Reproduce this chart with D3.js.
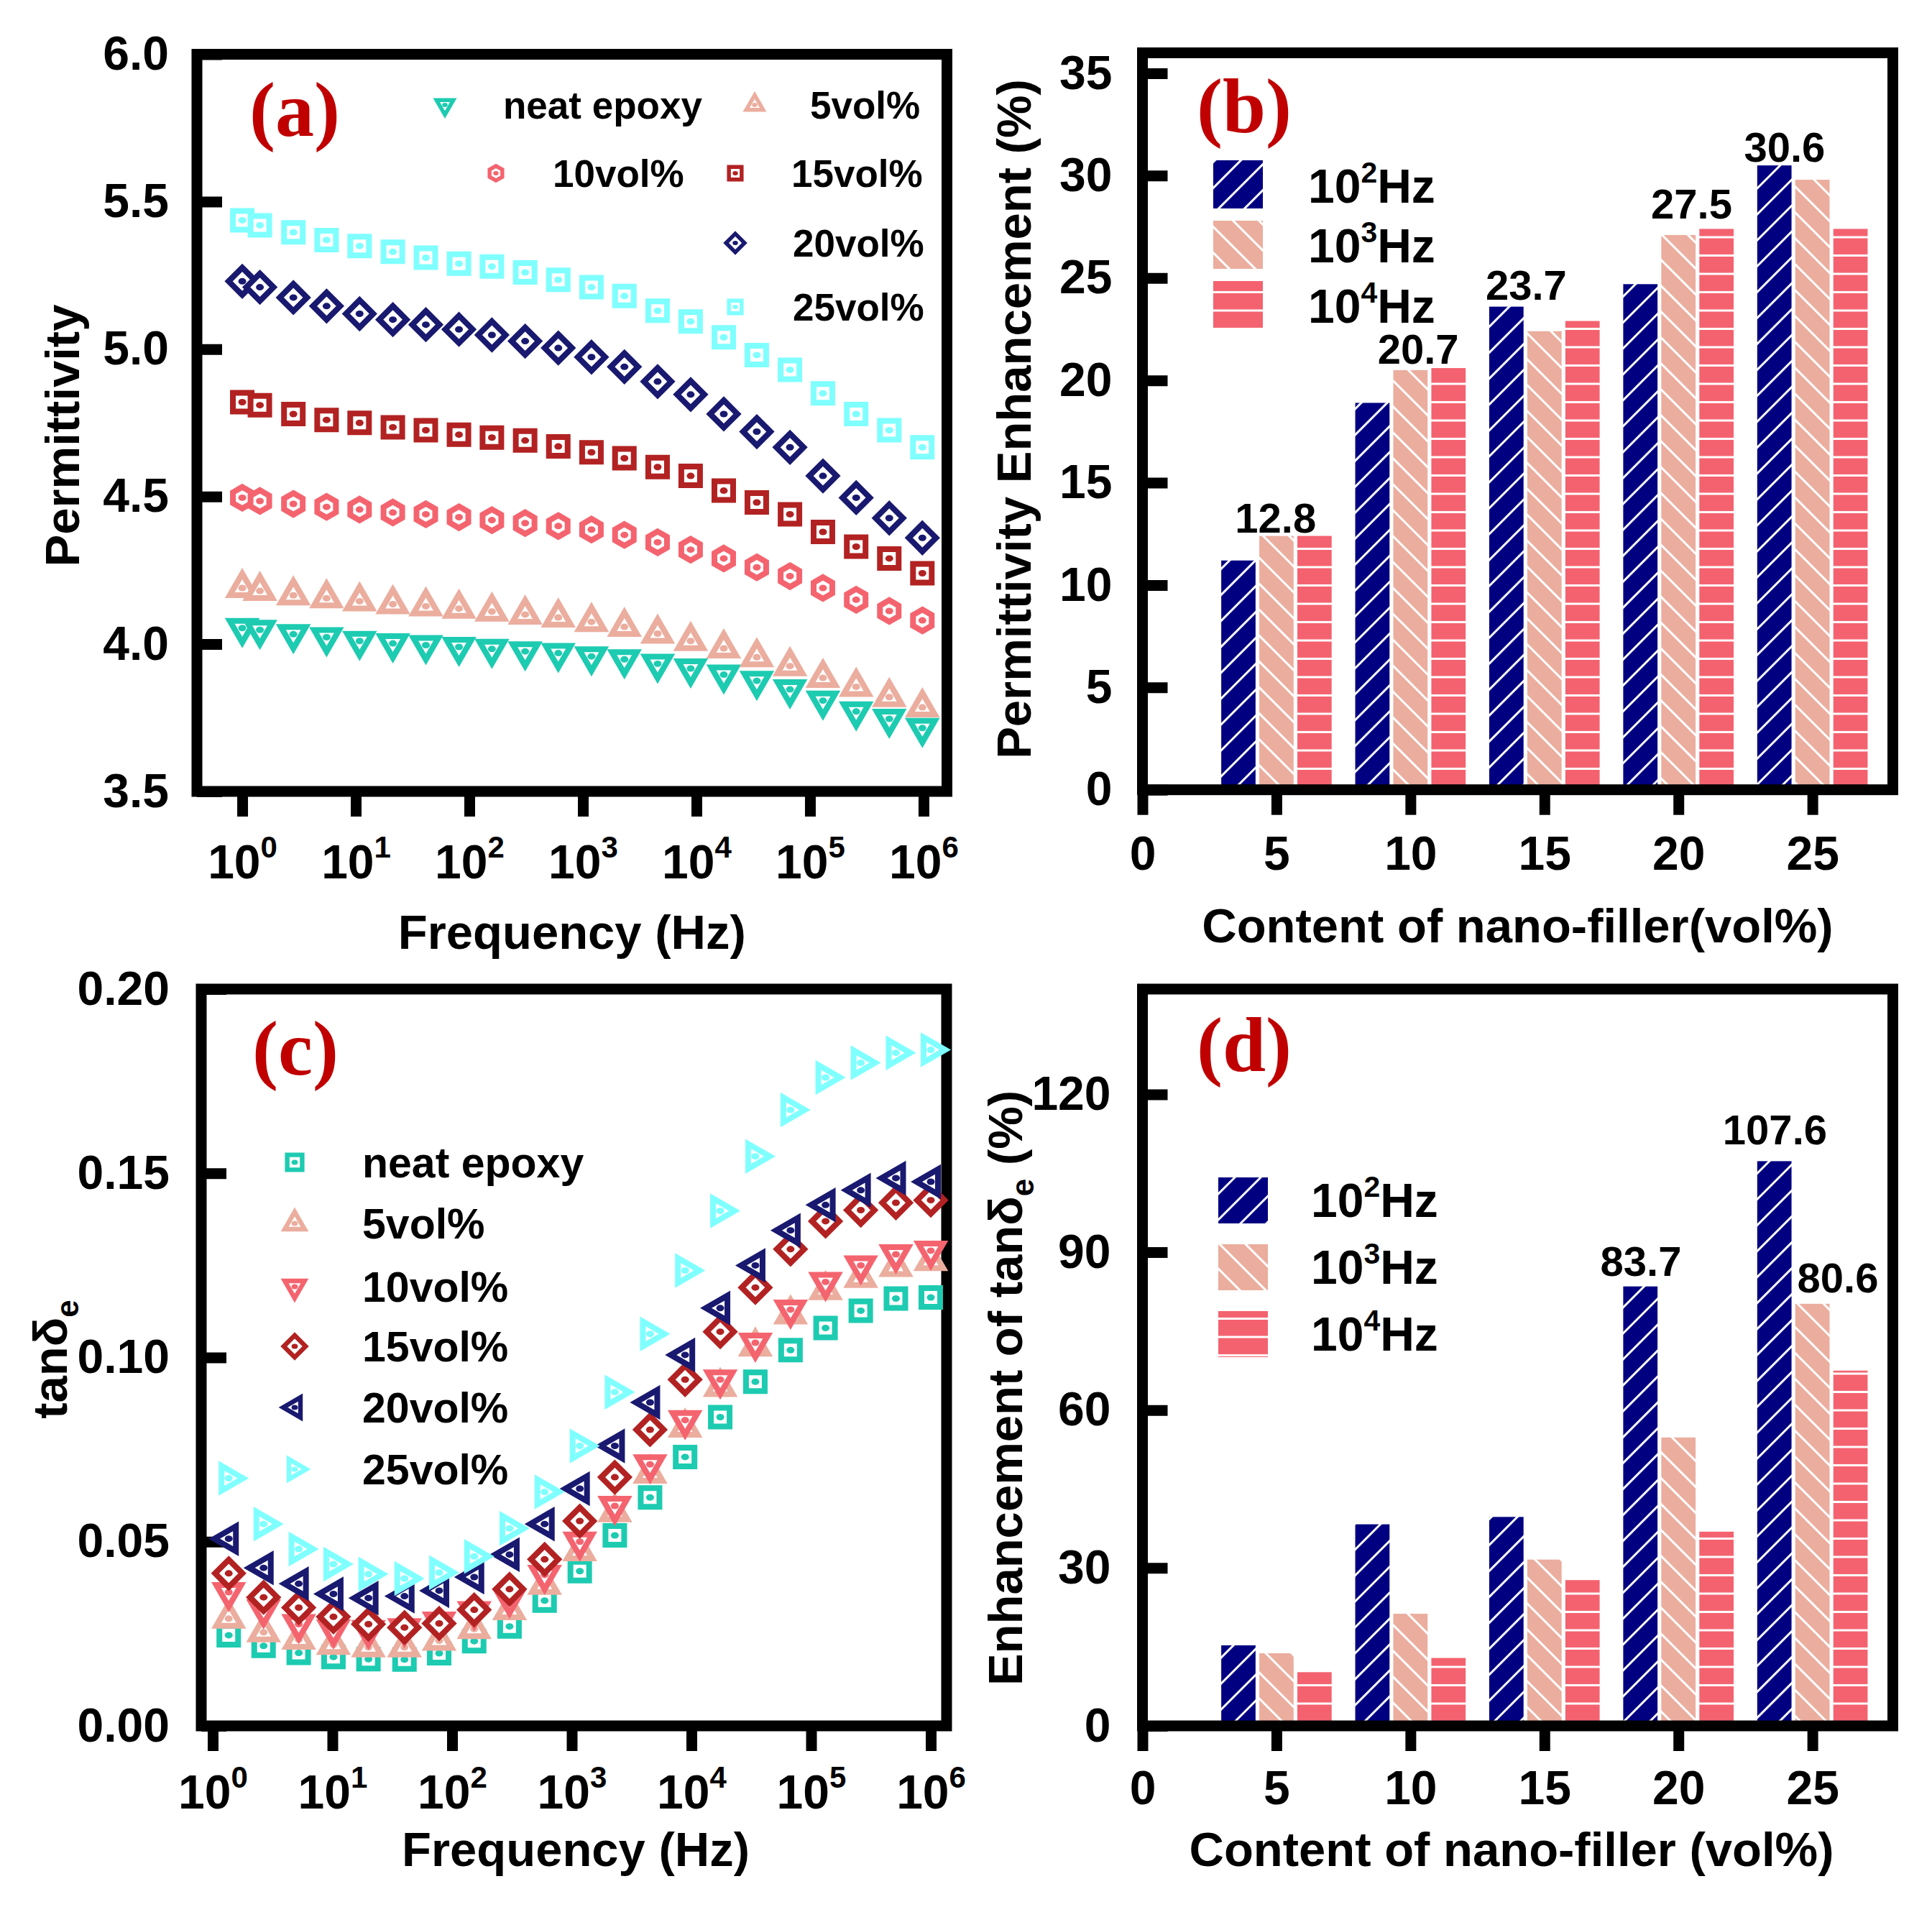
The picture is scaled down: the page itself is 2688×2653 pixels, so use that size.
<!DOCTYPE html>
<html>
<head>
<meta charset="utf-8">
<script src="https://cdn.jsdelivr.net/npm/d3@7"></script>
<style>
  body { margin: 0; background: #fff; }
  svg { display: block; }
</style>
</head>
<body>
<svg id="fig"></svg>
<script>
// ---- data ----
const seriesNames = ['neat epoxy', '5vol%', '10vol%', '15vol%', '20vol%', '25vol%']

// panel (a): permittivity vs frequency
const permFreq = [1, 1.43, 2.82, 5.53, 10.8, 21.2, 41.4, 81, 158, 310, 607, 1190, 2320, 4550, 8890, 17400, 34000, 66600, 130000, 255000, 499000, 976000]
const permNeat = [4.054, 4.048, 4.033, 4.023, 4.010, 4.002, 3.996, 3.990, 3.983, 3.975, 3.969, 3.958, 3.948, 3.933, 3.917, 3.896, 3.875, 3.846, 3.808, 3.771, 3.746, 3.715]
const perm5 = [4.190, 4.180, 4.165, 4.155, 4.145, 4.135, 4.128, 4.120, 4.110, 4.100, 4.090, 4.075, 4.058, 4.035, 4.010, 3.985, 3.955, 3.925, 3.885, 3.855, 3.820, 3.785]
const perm10 = [4.496, 4.485, 4.475, 4.465, 4.456, 4.446, 4.440, 4.430, 4.420, 4.410, 4.400, 4.388, 4.370, 4.345, 4.320, 4.290, 4.260, 4.230, 4.190, 4.150, 4.112, 4.080]
const perm15 = [4.820, 4.810, 4.780, 4.760, 4.750, 4.735, 4.725, 4.710, 4.700, 4.690, 4.670, 4.650, 4.630, 4.600, 4.570, 4.520, 4.480, 4.440, 4.380, 4.330, 4.290, 4.240]
const perm20 = [5.230, 5.210, 5.175, 5.146, 5.120, 5.100, 5.083, 5.067, 5.048, 5.027, 5.004, 4.973, 4.940, 4.890, 4.846, 4.780, 4.720, 4.667, 4.570, 4.496, 4.427, 4.360]
const perm25 = [5.437, 5.420, 5.396, 5.370, 5.350, 5.330, 5.310, 5.290, 5.280, 5.260, 5.235, 5.210, 5.180, 5.130, 5.094, 5.040, 4.980, 4.930, 4.850, 4.780, 4.725, 4.667]
const permTicks = [3.5, 4.0, 4.5, 5.0, 5.5, 6.0]

// panel (c): loss tangent vs frequency
const tanFreq = [1.36, 2.66, 5.23, 10.2, 20, 40, 78, 153, 302, 593, 1167, 2290, 4510, 8850, 17400, 34200, 67300, 132000, 260000, 511000, 1000000]
const tanNeat = [0.0246, 0.0217, 0.0198, 0.0187, 0.0181, 0.0180, 0.0197, 0.0230, 0.0270, 0.0340, 0.0420, 0.0517, 0.0620, 0.0730, 0.0838, 0.0934, 0.1020, 0.1080, 0.1127, 0.1160, 0.1163]
const tan5 = [0.0291, 0.0254, 0.0234, 0.0220, 0.0213, 0.0213, 0.0231, 0.0263, 0.0314, 0.0383, 0.0474, 0.0580, 0.0685, 0.0810, 0.0920, 0.1030, 0.1117, 0.1183, 0.1216, 0.1246, 0.1262]
const tan10 = [0.0363, 0.0316, 0.0276, 0.0262, 0.0260, 0.0265, 0.0283, 0.0311, 0.0345, 0.0410, 0.0500, 0.0597, 0.0710, 0.0830, 0.0940, 0.1040, 0.1130, 0.1205, 0.1250, 0.1280, 0.1290]
const tan15 = [0.0414, 0.0349, 0.0321, 0.0296, 0.0276, 0.0267, 0.0278, 0.0315, 0.0371, 0.0452, 0.0556, 0.0675, 0.0804, 0.0940, 0.1070, 0.1190, 0.1294, 0.1370, 0.1400, 0.1420, 0.1427]
const tan20 = [0.0508, 0.0429, 0.0386, 0.0358, 0.0347, 0.0352, 0.0367, 0.0404, 0.0465, 0.0548, 0.0644, 0.0760, 0.0878, 0.1007, 0.1134, 0.1250, 0.1345, 0.1414, 0.1454, 0.1487, 0.1477]
const tan25 = [0.0672, 0.0548, 0.0480, 0.0439, 0.0412, 0.0400, 0.0416, 0.0460, 0.0536, 0.0635, 0.0760, 0.0906, 0.1064, 0.1236, 0.1398, 0.1546, 0.1672, 0.1760, 0.1800, 0.1827, 0.1835]
const tanTicks = [0, 0.05, 0.10, 0.15, 0.20]

// panels (b) and (d): enhancement bars
const contents = [5, 10, 15, 20, 25]
const freqLabels = ['2', '3', '4']   // exponents of 10^n Hz
const permEnh100 = [11.2, 18.9, 23.6, 24.7, 30.5]
const permEnh1k = [12.4, 20.5, 22.4, 27.1, 29.8]
const permEnh10k = [12.4, 20.6, 22.9, 27.4, 27.4]
const tanEnh100 = [15.3, 38.3, 39.7, 83.5, 107.3]
const tanEnh1k = [13.8, 21.3, 31.6, 54.8, 80.2]
const tanEnh10k = [10.2, 12.9, 27.7, 36.9, 67.5]
const contentTicks = [0, 5, 10, 15, 20, 25]
const permEnhTicks = [0, 5, 10, 15, 20, 25, 30, 35]
const tanEnhTicks = [0, 30, 60, 90, 120]

// value labels over bars: text, anchor content, anchor value (baseline)
const permEnhLabels = ['12.8', '20.7', '23.7', '27.5', '30.6']
const permEnhLabelAt = [4.97, 10.29, 14.32, 20.49, 23.96]
const permEnhLabelVal = [12.56, 20.81, 23.93, 27.9, 30.68]
const tanEnhLabels = ['83.7', '107.6', '80.6']
const tanEnhLabelAt = [18.6, 23.6, 25.95]
const tanEnhLabelVal = [85.5, 110.5, 82.3]

// ---- style ----
const FONT = "'Liberation Sans', Arial, Helvetica, sans-serif"
const SERIF = "'Liberation Serif', 'Times New Roman', serif"
const COLORS = ['#1DCBB1', '#EBAD9E', '#F4646F', '#B22222', '#191970', '#80FFFF']
const BAR_COLORS = ['#000080', '#EBAD9E', '#F4626F']
const FRAME_W = 15
const TICK_LEN = 35

const W = 2688, H = 2653
const svg = d3.select('#fig').attr('width', W).attr('height', H)

const PA = { left: 274, right: 1317.5, top: 75.5, bottom: 1101 }
const PB = { left: 1589.5, right: 2633.5, top: 73.5, bottom: 1098.7 }
const PC = { left: 280, right: 1317, top: 1376, bottom: 2401 }
const PD = { left: 1589.5, right: 2633.5, top: 1376, bottom: 2401 }

// hatch patterns for the bars
const defs = svg.append('defs')
function stripePattern(id, color, angle) {
    const p = defs.append('pattern')
        .attr('id', id)
        .attr('patternUnits', 'userSpaceOnUse')
        .attr('width', 25.5).attr('height', 25.5)
        .attr('patternTransform', `rotate(${angle})`)
    p.append('rect').attr('width', 25.5).attr('height', 25.5).attr('fill', color)
    if (angle === 0) {
        p.append('rect').attr('x', 0).attr('y', 22.5).attr('width', 25.5).attr('height', 3).attr('fill', '#fff')
    } else {
        p.append('rect').attr('x', 0).attr('y', 0).attr('width', 3).attr('height', 25.5).attr('fill', '#fff')
    }
}
stripePattern('hatch100', BAR_COLORS[0], 45)
stripePattern('hatch1k', BAR_COLORS[1], -45)
stripePattern('hatch10k', BAR_COLORS[2], 0)
const PATTERNS = ['hatch100', 'hatch1k', 'hatch10k']

// marker shapes, sizes are at stroke centre
function markerPath(shape, s) {
    const c30 = Math.cos(Math.PI / 6)
    if (shape === 'square') {
        const r = 13 * s
        return `M${-r},${-r}H${r}V${r}H${-r}Z`
    }
    if (shape === 'diamond') {
        const r = 19 * s
        return `M0,${-r}L${r},0L0,${r}L${-r},0Z`
    }
    if (shape === 'hexagon') {
        const r = 15 * s
        const pts = d3.range(6).map(k => {
            const a = -Math.PI / 2 + k * Math.PI / 3
            return [r * Math.cos(a), r * Math.sin(a)]
        })
        return 'M' + pts.map(p => p.join(',')).join('L') + 'Z'
    }
    const R = 20 * s
    if (shape === 'triUp') return `M0,${-R}L${R * c30},${R / 2}L${-R * c30},${R / 2}Z`
    if (shape === 'triDown') return `M0,${R}L${R * c30},${-R / 2}L${-R * c30},${-R / 2}Z`
    if (shape === 'triLeft') return `M${-R},0L${R / 2},${-R * c30}L${R / 2},${R * c30}Z`
    if (shape === 'triRight') return `M${R},0L${-R / 2},${-R * c30}L${-R / 2},${R * c30}Z`
}

function drawMarker(g, x, y, shape, color, s) {
    const m = g.append('g').attr('transform', `translate(${x},${y})`)
    m.append('path')
        .attr('d', markerPath(shape, s))
        .attr('fill', '#fff')
        .attr('stroke', color)
        .attr('stroke-width', 8 * s)
        .attr('stroke-linejoin', 'miter')
    m.append('ellipse').attr('rx', 5.5 * s).attr('ry', 4.5 * s).attr('fill', color)
}

function drawFrame(p) {
    svg.append('rect')
        .attr('x', p.left).attr('y', p.top)
        .attr('width', p.right - p.left).attr('height', p.bottom - p.top)
        .attr('fill', 'none')
        .attr('stroke', '#000')
        .attr('stroke-width', FRAME_W)
}

function styleAxis(g) {
    g.select('.domain').remove()
    g.attr('font-size', 66).attr('font-family', FONT).attr('font-weight', 'bold')
    g.selectAll('.tick line').attr('stroke', '#000').attr('stroke-width', FRAME_W)
    g.selectAll('.tick text').attr('fill', '#000')
}

function yAxis(p, scale, ticks, fmt, pad) {
    const g = svg.append('g')
        .attr('transform', `translate(${p.left},0)`)
        .call(d3.axisLeft(scale).tickValues(ticks).tickFormat(fmt)
            .tickSizeInner(-TICK_LEN).tickSizeOuter(0).tickPadding(pad))
    styleAxis(g)
}

function xAxis(p, scale, ticks, fmt, pad, logLabels) {
    const g = svg.append('g')
        .attr('transform', `translate(0,${p.bottom})`)
        .call(d3.axisBottom(scale).tickValues(ticks).tickFormat(fmt)
            .tickSizeInner(TICK_LEN).tickSizeOuter(0).tickPadding(pad))
    styleAxis(g)
    if (logLabels) {
        g.selectAll('.tick text').each(function (d) {
            const t = d3.select(this)
            t.text(null)
            t.append('tspan').text('10')
            t.append('tspan').attr('dy', -29).attr('font-size', 42)
                .text(Math.round(Math.log10(d)))
        })
    }
}

function text(x, y, str, opts = {}) {
    return svg.append('text')
        .attr('x', x).attr('y', y)
        .attr('font-family', opts.family || FONT)
        .attr('font-weight', 'bold')
        .attr('font-size', opts.size || 67)
        .attr('fill', opts.fill || '#000')
        .attr('text-anchor', opts.anchor || 'start')
        .text(str)
}

function yTitle(x, y, parts) {
    const t = svg.append('text')
        .attr('transform', `translate(${x},${y}) rotate(-90)`)
        .attr('font-family', FONT).attr('font-weight', 'bold')
        .attr('font-size', 67).attr('text-anchor', 'middle')
    parts.forEach(([str, kind]) => {
        const ts = t.append('tspan').text(str)
        if (kind === 'sub') ts.attr('font-size', 44).attr('dy', 16)
        if (kind === 'after') ts.attr('dy', -16)
    })
}

function panelLabel(x, y, str) {
    text(x, y, str, { family: SERIF, size: 108, fill: '#C00000' })
}

function hzLabel(x, y, exp, size) {
    const t = text(x, y, '', { size })
    t.append('tspan').text('10')
    t.append('tspan').attr('dy', -size * 0.42).attr('font-size', size * 0.62).text(exp)
    t.append('tspan').attr('dy', size * 0.42).text('Hz')
}

// ---------------- panel (a) ----------------
{
    const x = d3.scaleLog().domain([10 ** -0.399, 10 ** 6.206]).range([PA.left, PA.right])
    const y = d3.scaleLinear().domain([3.5, 6.0]).range([PA.bottom, PA.top])
    drawFrame(PA)
    yAxis(PA, y, permTicks, d3.format('.1f'), 39)
    xAxis(PA, x, [1, 10, 100, 1e3, 1e4, 1e5, 1e6], null, 39, true)

    const shapes = ['triDown', 'triUp', 'hexagon', 'square', 'diamond', 'square']
    const series = [permNeat, perm5, perm10, perm15, perm20, perm25]
    const gData = svg.append('g')
    series.forEach((vals, i) => {
        vals.forEach((v, j) => drawMarker(gData, x(permFreq[j]), y(v), shapes[i], COLORS[i], 1))
    })

    // legend
    const leg = [
        { m: 619, t: 700, yb: 165 }, { m: 1050, t: 1127, yb: 165 },
        { m: 690, t: 769, yb: 260 }, { m: 1023, t: 1101, yb: 260 },
        { m: 1023, t: 1103, yb: 357 }, { m: 1023, t: 1103, yb: 446 }
    ]
    leg.forEach((l, i) => {
        drawMarker(svg, l.m, l.yb - 19, shapes[i], COLORS[i], 0.68)
        text(l.t, l.yb, seriesNames[i], { size: 53 })
    })

    panelLabel(347, 189, '(a)')
    text((PA.left + PA.right) / 2, 1320, 'Frequency (Hz)', { anchor: 'middle' })
    yTitle(110, 606, [['Permittivity']])
}

// ---------------- panel (b) ----------------
function barPanel(P, yMax, ticks, seriesVals, labels, labelAt, labelVal, tickPad, xPad) {
    const x = d3.scaleLinear().domain([0, 28]).range([P.left, P.right])
    const y = d3.scaleLinear().domain([0, yMax]).range([P.bottom, P.top])
    const BAR_OFF = [-1.42, 0, 1.42]
    const BAR_W = 1.28
    const g = svg.append('g')
    seriesVals.forEach((vals, i) => {
        g.selectAll(null)
            .data(contents.map((c, j) => ({ c, v: vals[j] })))
            .join('rect')
            .attr('x', d => x(d.c + BAR_OFF[i] - BAR_W / 2))
            .attr('width', x(BAR_W) - x(0))
            .attr('y', d => y(d.v))
            .attr('height', d => y(0) - y(d.v))
            .attr('fill', `url(#${PATTERNS[i]})`)
    })
    labels.forEach((s, i) => {
        text(x(labelAt[i]), y(labelVal[i]), s, { size: 58, anchor: 'middle' })
    })
    drawFrame(P)
    yAxis(P, y, ticks, d3.format('d'), tickPad)
    xAxis(P, x, contentTicks, d3.format('d'), xPad, false)
}

barPanel(PB, 36, permEnhTicks, [permEnh100, permEnh1k, permEnh10k],
    permEnhLabels, permEnhLabelAt, permEnhLabelVal, 42, 29)
{
    const tops = [223, 307, 391]
    const bases = [282, 365, 448.5]
    tops.forEach((t, i) => {
        svg.append('rect').attr('x', 1688).attr('y', t).attr('width', 69).attr('height', 67)
            .attr('fill', `url(#${PATTERNS[i]})`)
        hzLabel(1820, bases[i], freqLabels[i], 66)
    })
    panelLabel(1665, 184, '(b)')
    text((PB.left + PB.right) / 2, 1311, 'Content of nano-filler(vol%)', { anchor: 'middle' })
    yTitle(1434, 583, [['Permittivity Enhancement (%)']])
}

// ---------------- panel (c) ----------------
{
    const x = d3.scaleLog().domain([10 ** -0.096, 10 ** 6.132]).range([PC.left, PC.right])
    const y = d3.scaleLinear().domain([0, 0.2]).range([PC.bottom, PC.top])
    drawFrame(PC)
    yAxis(PC, y, tanTicks, d3.format('.2f'), 44)
    xAxis(PC, x, [1, 10, 100, 1e3, 1e4, 1e5, 1e6], null, 33, true)

    const shapes = ['square', 'triUp', 'triDown', 'diamond', 'triLeft', 'triRight']
    const series = [tanNeat, tan5, tan10, tan15, tan20, tan25]
    const gData = svg.append('g')
    series.forEach((vals, i) => {
        vals.forEach((v, j) => drawMarker(gData, x(tanFreq[j]), y(v), shapes[i], COLORS[i], 1))
    })

    const rows = [1617, 1702, 1790, 1873, 1958, 2044]
    rows.forEach((ry, i) => {
        drawMarker(svg, 410, ry, shapes[i], COLORS[i], 0.8)
        text(504, ry + 21, seriesNames[i], { size: 59 })
    })

    panelLabel(351, 1495, '(c)')
    text(801, 2596, 'Frequency (Hz)', { anchor: 'middle' })
    yTitle(93, 1891, [['tanδ'], ['e', 'sub']])
}

// ---------------- panel (d) ----------------
barPanel(PD, 140, tanEnhTicks, [tanEnh100, tanEnh1k, tanEnh10k],
    tanEnhLabels, tanEnhLabelAt, tanEnhLabelVal, 44, 27)
{
    const tops = [1638, 1731, 1824]
    const bases = [1693, 1786, 1879]
    tops.forEach((t, i) => {
        svg.append('rect').attr('x', 1695).attr('y', t).attr('width', 69).attr('height', 64)
            .attr('fill', `url(#${PATTERNS[i]})`)
        hzLabel(1824, bases[i], freqLabels[i], 66)
    })
    panelLabel(1665, 1490, '(d)')
    text(2103, 2596, 'Content of nano-filler (vol%)', { anchor: 'middle' })
    yTitle(1422, 1931, [['Enhancement of tanδ'], ['e', 'sub'], [' (%)', 'after']])
}
</script>
</body>
</html>
